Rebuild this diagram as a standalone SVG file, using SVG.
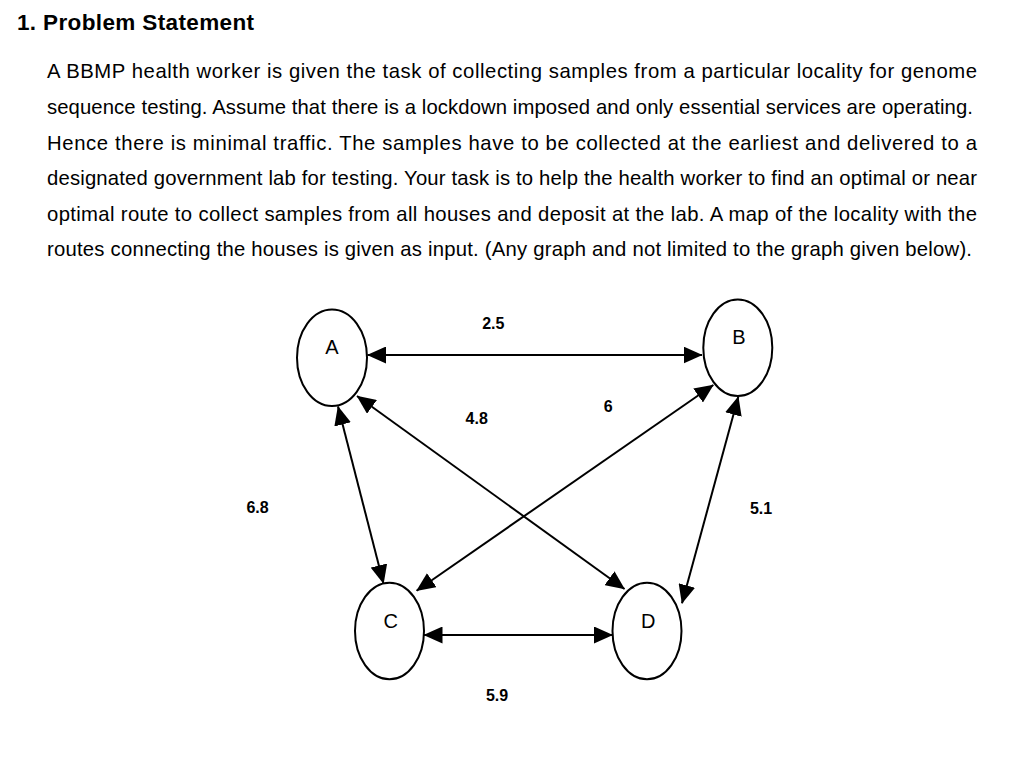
<svg xmlns="http://www.w3.org/2000/svg" width="1024" height="769" viewBox="0 0 1024 769">
  <style>
    .h { font-family: "Liberation Sans", Arial, sans-serif; font-weight: bold; font-size: 22.5px; fill: #000; }
    .body { font-family: "Liberation Sans", Arial, sans-serif; font-size: 20.3px; fill: #000; }
    .node ellipse { fill: #fff; stroke: #000; stroke-width: 2; }
    .node text { font-family: "Liberation Sans", Arial, sans-serif; font-size: 20px; fill: #000; text-anchor: middle; }
    .edge { stroke: #000; stroke-width: 2; fill: none; marker-start: url(#arr); marker-end: url(#arr); }
    .lbl { font-family: "Liberation Sans", Arial, sans-serif; font-weight: bold; font-size: 16px; fill: #000; text-anchor: middle; }
  </style>
  <defs>
    <marker id="arr" markerUnits="userSpaceOnUse" markerWidth="19" markerHeight="17" refX="18.5" refY="8.5" orient="auto-start-reverse" viewBox="0 0 19 17">
      <path d="M0,0 L19,8.5 L0,17 z" fill="#000"/>
    </marker>
  </defs>
  <rect width="1024" height="769" fill="#fff"/>

  <g id="text">
    <text class="h" x="17" y="30" textLength="237" lengthAdjust="spacing">1. Problem Statement</text>
    <text class="body" x="47" y="77.5" textLength="930" lengthAdjust="spacing">A BBMP health worker is given the task of collecting samples from a particular locality for genome</text>
    <text class="body" x="47" y="113.5" textLength="926" lengthAdjust="spacing">sequence testing. Assume that there is a lockdown imposed and only essential services are operating.</text>
    <text class="body" x="47" y="149.5" textLength="930" lengthAdjust="spacing">Hence there is minimal traffic. The samples have to be collected at the earliest and delivered to a</text>
    <text class="body" x="47" y="185" textLength="930" lengthAdjust="spacing">designated government lab for testing. Your task is to help the health worker to find an optimal or near</text>
    <text class="body" x="47" y="220.5" textLength="930" lengthAdjust="spacing">optimal route to collect samples from all houses and deposit at the lab. A map of the locality with the</text>
    <text class="body" x="47" y="256" textLength="925" lengthAdjust="spacing">routes connecting the houses is given as input. (Any graph and not limited to the graph given below).</text>
  </g>

  <g id="connectors">
    <line class="edge" x1="367.5" y1="355" x2="702" y2="355"/>
    <line class="edge" x1="424" y1="635" x2="612.5" y2="635"/>
    <line class="edge" x1="338" y1="406.5" x2="383.5" y2="583.5"/>
    <line class="edge" x1="357" y1="396" x2="624.5" y2="589"/>
    <line class="edge" x1="713.3" y1="385" x2="416.6" y2="590.7"/>
    <line class="edge" x1="738.3" y1="396.7" x2="682" y2="603.3"/>
  </g>

  <g id="edge-labels">
    <text class="lbl" x="493.3" y="329">2.5</text>
    <text class="lbl" x="476.7" y="424">4.8</text>
    <text class="lbl" x="608.3" y="412">6</text>
    <text class="lbl" x="257.5" y="512.5">6.8</text>
    <text class="lbl" x="761" y="513.5">5.1</text>
    <text class="lbl" x="497" y="700.5">5.9</text>
  </g>

  <g id="node-A" class="node">
    <ellipse cx="332" cy="357.7" rx="35" ry="48.3"/>
    <text x="332" y="354">A</text>
  </g>
  <g id="node-B" class="node">
    <ellipse cx="737.8" cy="347.7" rx="34.5" ry="48.3"/>
    <text x="739" y="344">B</text>
  </g>
  <g id="node-C" class="node">
    <ellipse cx="389.5" cy="631" rx="34.5" ry="48.3"/>
    <text x="390.7" y="628">C</text>
  </g>
  <g id="node-D" class="node">
    <ellipse cx="647" cy="631" rx="34.5" ry="48.3"/>
    <text x="648.3" y="628">D</text>
  </g>
</svg>
